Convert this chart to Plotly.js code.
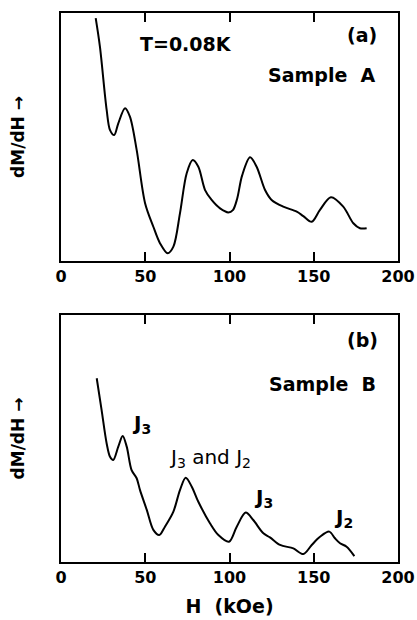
<!DOCTYPE html>
<html>
<head>
<meta charset="utf-8">
<script src="https://cdn.plot.ly/plotly-3.0.1.min.js"></script>
<style>html,body{margin:0;padding:0;background:#fff;}#chart{width:417px;height:620px;}</style>
</head>
<body>
<div id="chart"></div>
<script>
// Panel (a): Sample A, T=0.08K
const hA = [20.6, 23.1, 27.1, 29.1, 31.6, 34.0, 38.0, 40.9, 44.9, 49.9, 54.8, 58.8, 63.3, 66.7, 70.6, 74.6, 78.2, 81.5, 85.5, 89.4, 94.4, 99.3, 102.0, 104.5, 107.5, 112.2, 116.1, 121.1, 125.0, 131.9, 139.9, 143.8, 148.8, 153.7, 160.2, 167.5, 173.5, 177.4, 181.4];
const dA = [97.9, 86.4, 60.9, 52.8, 50.8, 55.5, 61.6, 58.2, 44.8, 23.3, 13.8, 7.1, 3.1, 5.8, 19.2, 35.4, 40.7, 38.0, 28.6, 24.6, 21.2, 19.6, 20.5, 25.0, 34.5, 41.8, 38.0, 28.6, 24.6, 21.9, 19.9, 18.1, 15.8, 20.6, 25.7, 21.9, 15.2, 13.2, 13.2];
// Panel (b): Sample B
const hB = [21.2, 24.1, 27.1, 29.1, 31.0, 34.0, 36.6, 39.0, 41.9, 44.9, 46.9, 50.9, 54.8, 58.3, 61.7, 66.7, 70.6, 74.0, 77.6, 81.5, 88.4, 93.4, 99.7, 104.3, 109.6, 114.1, 120.1, 124.0, 130.0, 137.9, 143.8, 148.8, 153.7, 159.2, 162.6, 165.6, 169.5, 174.1];
const dB = [74.4, 61.5, 48.0, 42.6, 41.3, 46.7, 51.0, 46.7, 37.2, 33.9, 29.1, 21.1, 13.0, 10.9, 14.3, 20.4, 29.1, 34.1, 30.5, 24.4, 15.7, 10.9, 8.2, 14.3, 20.0, 17.0, 11.6, 10.0, 6.9, 5.5, 3.2, 6.9, 10.2, 12.3, 9.6, 7.6, 6.2, 2.4];
const xTicks = [0, 50, 100, 150, 200];
const xTickText = ['<b>0</b>', '<b>50</b>', '<b>100</b>', '<b>150</b>', '<b>200</b>'];

const F = 'DejaVu Sans, sans-serif';
const traces = [
  {x: hA, y: dA, xaxis: 'x', yaxis: 'y', mode: 'lines', line: {color: '#000', width: 2, shape: 'spline', smoothing: 0.9}, hoverinfo: 'skip'},
  {x: hB, y: dB, xaxis: 'x2', yaxis: 'y2', mode: 'lines', line: {color: '#000', width: 2, shape: 'spline', smoothing: 0.9}, hoverinfo: 'skip'}
];

function xa(anchor) {
  return {
    anchor: anchor, range: [0, 200], tickvals: xTicks, ticktext: xTickText,
    ticks: 'inside', ticklen: 9, tickwidth: 2, tickcolor: '#000',
    showline: true, linewidth: 2, linecolor: '#000', mirror: 'ticks',
    showgrid: false, zeroline: false,
    tickfont: {family: F, size: 16, color: '#000'}
  };
}
function ya(dom, anchor) {
  return {
    anchor: anchor, domain: dom, range: [0, 100],
    showticklabels: false, ticks: '', showgrid: false, zeroline: false,
    showline: true, linewidth: 2, linecolor: '#000', mirror: true,
    title: {text: '<b>dM/dH →</b>', font: {family: F, size: 17, color: '#000'}, standoff: 30}
  };
}

const x2 = xa('y2');
x2.title = {text: '<b>H  (kOe)</b>', font: {family: F, size: 19, color: '#000'}, standoff: 13};

const layout = {
  width: 417, height: 620,
  margin: {l: 61, r: 19, t: 13, b: 58},
  paper_bgcolor: '#fff', plot_bgcolor: '#fff',
  showlegend: false,
  xaxis: xa('y'),
  yaxis: ya([0.5483, 1], 'x'),
  xaxis2: x2,
  yaxis2: ya([0, 0.4499], 'x2'),
  annotations: [
    {xref: 'x', yref: 'y', x: 74, y: 87.5, text: '<b>T=0.08K</b>', showarrow: false, font: {family: F, size: 19, color: '#000'}},
    {xref: 'x', yref: 'y', x: 178.5, y: 91, text: '<b>(a)</b>', showarrow: false, font: {family: F, size: 19, color: '#000'}},
    {xref: 'x', yref: 'y', x: 155, y: 75, text: '<b>Sample  A</b>', showarrow: false, font: {family: F, size: 19, color: '#000'}},
    {xref: 'x2', yref: 'y2', x: 179, y: 90, text: '<b>(b)</b>', showarrow: false, font: {family: F, size: 19, color: '#000'}},
    {xref: 'x2', yref: 'y2', x: 155, y: 72, text: '<b>Sample  B</b>', showarrow: false, font: {family: F, size: 19, color: '#000'}},
    {xref: 'x2', yref: 'y2', x: 48, y: 56, text: '<b>J<sub>3</sub></b>', showarrow: false, font: {family: F, size: 20, color: '#000'}},
    {xref: 'x2', yref: 'y2', x: 88.5, y: 42, text: 'J<sub>3</sub> and J<sub>2</sub>', showarrow: false, font: {family: F, size: 20, color: '#000'}},
    {xref: 'x2', yref: 'y2', x: 120, y: 26, text: '<b>J<sub>3</sub></b>', showarrow: false, font: {family: F, size: 20, color: '#000'}},
    {xref: 'x2', yref: 'y2', x: 167.5, y: 18, text: '<b>J<sub>2</sub></b>', showarrow: false, font: {family: F, size: 20, color: '#000'}}
  ]
};

Plotly.newPlot('chart', traces, layout, {displayModeBar: false});
</script>
</body>
</html>
